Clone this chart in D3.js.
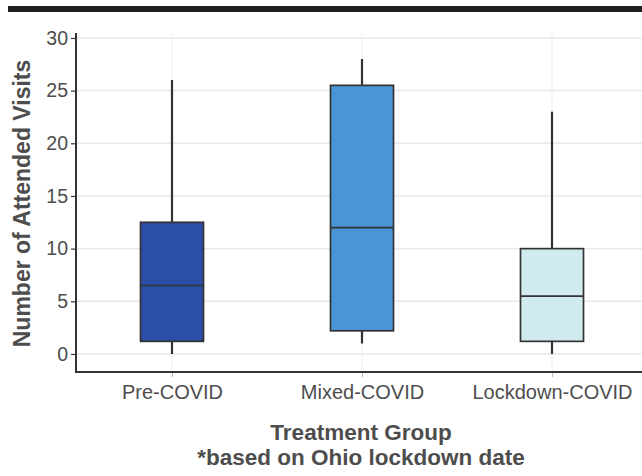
<!DOCTYPE html>
<html>
<head>
<script src="https://d3js.org/d3.v7.min.js"></script>
<style>
  body { margin: 0; background: #fff; }
  text { font-family: "Liberation Sans", Arial, sans-serif; }
</style>
</head>
<body>
<script>

// data
var groups = ["Pre-COVID", "Mixed-COVID", "Lockdown-COVID"];
var whiskerLow = [0, 1, 0];
var q1 = [1.2, 2.2, 1.2];
var median = [6.5, 12, 5.5];
var q3 = [12.5, 25.5, 10];
var whiskerHigh = [26, 28, 23];
var fills = ["#2b4fa6", "#4a96d5", "#d0ebf0"];
var yTicks = [0, 5, 10, 15, 20, 25, 30];

var W = 642, H = 476;
var pLeft = 76, pBottom = 372, pTop = 33, pRight = 642;

var svg = d3.select("body").append("svg")
    .attr("width", W)
    .attr("height", H);

// black band at the very top
svg.append("rect")
    .attr("x", 8).attr("y", 6)
    .attr("width", W - 8).attr("height", 6)
    .attr("fill", "#231f20");

var y = d3.scaleLinear()
    .domain([-1.71, 30.47])
    .range([pBottom, pTop]);

var x = d3.scalePoint()
    .domain(groups)
    .range([172, 552]);

var boxW = 63;

var boxes = groups.map(function(g, i) {
  return {g: g, lo: whiskerLow[i], q1: q1[i], med: median[i], q3: q3[i], hi: whiskerHigh[i], fill: fills[i]};
});

// grid
svg.append("g").selectAll("line")
    .data(yTicks)
  .enter().append("line")
    .attr("x1", pLeft).attr("x2", pRight)
    .attr("y1", function(d) { return y(d); })
    .attr("y2", function(d) { return y(d); })
    .attr("stroke", "#e8e8e8")
    .attr("stroke-width", 1.5);

svg.append("g").selectAll("line")
    .data(groups)
  .enter().append("line")
    .attr("x1", function(d) { return x(d); })
    .attr("x2", function(d) { return x(d); })
    .attr("y1", pTop).attr("y2", pBottom)
    .attr("stroke", "#efefef")
    .attr("stroke-width", 1);

// boxes + whiskers
var bx = svg.append("g").selectAll("g")
    .data(boxes)
  .enter().append("g");

bx.append("line")
    .attr("x1", function(d) { return x(d.g); })
    .attr("x2", function(d) { return x(d.g); })
    .attr("y1", function(d) { return y(d.lo); })
    .attr("y2", function(d) { return y(d.hi); })
    .attr("stroke", "#333")
    .attr("stroke-width", 2.2);

bx.append("rect")
    .attr("x", function(d) { return x(d.g) - boxW / 2; })
    .attr("width", boxW)
    .attr("y", function(d) { return y(d.q3); })
    .attr("height", function(d) { return y(d.q1) - y(d.q3); })
    .attr("fill", function(d) { return d.fill; })
    .attr("stroke", "#333")
    .attr("stroke-width", 1.7);

bx.append("line")
    .attr("x1", function(d) { return x(d.g) - boxW / 2; })
    .attr("x2", function(d) { return x(d.g) + boxW / 2; })
    .attr("y1", function(d) { return y(d.med); })
    .attr("y2", function(d) { return y(d.med); })
    .attr("stroke", "#333")
    .attr("stroke-width", 1.7);

// axes
var yAxis = svg.append("g")
    .attr("transform", "translate(" + pLeft + ",0)")
    .call(d3.axisLeft(y).tickValues(yTicks).tickSize(5).tickPadding(3));
yAxis.select(".domain").remove();
yAxis.selectAll(".tick line").attr("stroke", "#333").attr("stroke-width", 1.2);
yAxis.selectAll("text").style("font-size", "19.5px").attr("fill", "#4d4d4d");

var xAxis = svg.append("g")
    .attr("transform", "translate(0," + pBottom + ")")
    .call(d3.axisBottom(x).tickSize(5).tickPadding(8));
xAxis.select(".domain").remove();
xAxis.selectAll(".tick line").attr("stroke", "#bbb");
xAxis.selectAll("text").style("font-size", "20px").attr("fill", "#4d4d4d");

svg.append("line")
    .attr("x1", pLeft).attr("x2", pLeft)
    .attr("y1", pTop).attr("y2", pBottom + 1)
    .attr("stroke", "#333").attr("stroke-width", 2);
svg.append("line")
    .attr("x1", pLeft - 1).attr("x2", pRight)
    .attr("y1", pBottom).attr("y2", pBottom)
    .attr("stroke", "#333").attr("stroke-width", 2);

// titles
svg.append("text")
    .attr("transform", "translate(30," + ((pTop + pBottom) / 2 + 1) + ") rotate(-90)")
    .attr("text-anchor", "middle")
    .style("font-size", "23px")
    .style("font-weight", "bold")
    .attr("fill", "#4d4d4d")
    .text("Number of Attended Visits");

svg.append("text")
    .attr("x", 361).attr("y", 440)
    .attr("text-anchor", "middle")
    .style("font-size", "22.5px")
    .style("font-weight", "bold")
    .attr("fill", "#4d4d4d")
    .text("Treatment Group");

svg.append("text")
    .attr("x", 361).attr("y", 465)
    .attr("text-anchor", "middle")
    .style("font-size", "22.5px")
    .style("font-weight", "bold")
    .attr("fill", "#4d4d4d")
    .text("*based on Ohio lockdown date");

</script>
</body>
</html>
